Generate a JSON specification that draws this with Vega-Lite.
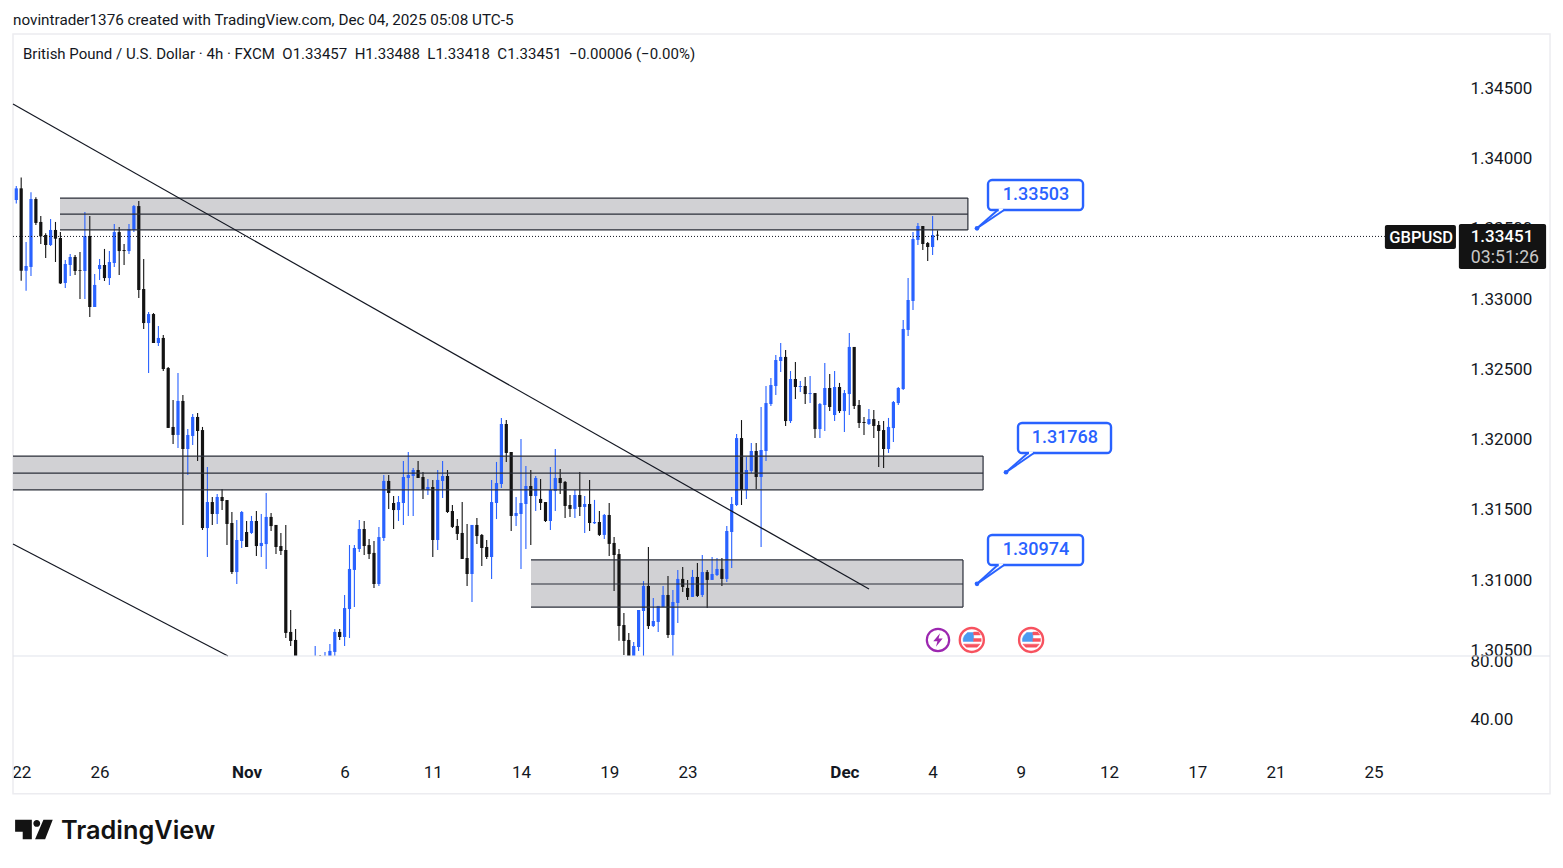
{"$schema":"https://vega.github.io/schema/vega-lite/v6.json","width":1447,"height":726,"autosize":{"type":"none"},"padding":{"left":13,"top":34,"right":103,"bottom":108},"background":"#ffffff","view":{"stroke":null},
"title":{"text":"novintrader1376 created with TradingView.com, Dec 04, 2025 05:08 UTC-5","anchor":"start","frame":"group","offset":5,"font":"Roboto","fontSize":15.25,"fontWeight":"normal","color":"#131722"},
"datasets":{
"frame":[{"bar":-0.67,"bar2":313.0,"price":1.34885,"price2":1.29481}],
"zones":[{"bar":8.92,"bar2":194.2,"price":1.33718,"price2":1.33491},{"bar":-0.67,"bar2":197.3,"price":1.31883,"price2":1.31642},{"bar":105.04,"bar2":193.2,"price":1.31144,"price2":1.30809}],
"zoneLines":[{"bar":8.92,"bar2":194.2,"price":1.33718,"price2":1.33718},{"bar":8.92,"bar2":194.2,"price":1.33604,"price2":1.33604},{"bar":8.92,"bar2":194.2,"price":1.33491,"price2":1.33491},{"bar":194.2,"bar2":194.2,"price":1.33718,"price2":1.33491},
{"bar":-0.67,"bar2":197.3,"price":1.31883,"price2":1.31883},{"bar":-0.67,"bar2":197.3,"price":1.31762,"price2":1.31762},{"bar":-0.67,"bar2":197.3,"price":1.31642,"price2":1.31642},{"bar":197.3,"bar2":197.3,"price":1.31883,"price2":1.31642},
{"bar":105.04,"bar2":193.2,"price":1.31144,"price2":1.31144},{"bar":105.04,"bar2":193.2,"price":1.30973,"price2":1.30973},{"bar":105.04,"bar2":193.2,"price":1.30809,"price2":1.30809},{"bar":193.2,"bar2":193.2,"price":1.31144,"price2":1.30809}],
"trend":[{"bar":-0.67,"bar2":174.02,"price":1.34387,"price2":1.30938},{"bar":-0.67,"bar2":43.2,"price":1.31258,"price2":1.30461}],
"separator":[{"bar":-0.67,"bar2":313.0,"price":1.30461,"price2":1.30461}],
"last":[{"bar":-0.67,"bar2":279.3,"price":1.33445,"price2":1.33445}],
"tags":[{"bar":279.3,"bar2":293.8,"price":1.33526,"price2":1.33356},{"bar":294.4,"bar2":312.2,"price":1.33533,"price2":1.33213}],
"tagText":[{"bar":286.7,"price":1.33441,"label":"GBPUSD","kind":"sym"},{"bar":303.2,"price":1.33448,"label":"1.33451","kind":"px"},{"bar":303.8,"price":1.33299,"label":"03:51:26","kind":"cd"}],
"callouts":[{"bar":198.31,"bar2":217.7,"price":1.33846,"price2":1.33633},{"bar":204.43,"bar2":223.41,"price":1.32118,"price2":1.31905},{"bar":198.31,"bar2":217.7,"price":1.31322,"price2":1.31108}],
"tails":[{"bar":196.06,"price":1.33503,"bar2":200.3,"price2":1.33633},{"bar":196.06,"price":1.33503,"bar2":201.6,"price2":1.33633},{"bar":201.98,"price":1.31768,"bar2":206.47,"price2":1.31905},{"bar":201.98,"price":1.31768,"bar2":207.69,"price2":1.31905},{"bar":196.06,"price":1.30974,"bar2":200.3,"price2":1.31108},{"bar":196.06,"price":1.30974,"bar2":201.6,"price2":1.31108}],
"gaps":[{"bar":200.5,"bar2":201.4,"price":1.33633,"price2":1.33633},{"bar":206.67,"bar2":207.49,"price":1.31905,"price2":1.31905},{"bar":200.5,"bar2":201.4,"price":1.31108,"price2":1.31108}],
"dots":[{"bar":196.06,"price":1.33503},{"bar":201.98,"price":1.31768},{"bar":196.06,"price":1.30974}],
"calloutText":[{"bar":208.1,"price":1.33747,"label":"1.33503"},{"bar":213.99,"price":1.32019,"label":"1.31768"},{"bar":208.1,"price":1.31222,"label":"1.30974"}],
"bolt":[{"bar":188.1,"price":1.30575}],
"flags":[{"bar":195.0,"price":1.30575},{"bar":207.1,"price":1.30575}],
"legendLine":[{"bar":1.37,"price":1.3474,"label":"British Pound / U.S. Dollar · 4h · FXCM\u00a0\u00a0O1.33457\u00a0\u00a0H1.33488\u00a0\u00a0L1.33418\u00a0\u00a0C1.33451\u00a0\u00a0−0.00006 (−0.00%)"}],
"logo":[{"bar":3.6,"price":1.29227}],
"brand":[{"bar":9.12,"price":1.29216,"label":"TradingView"}],
"rsi":[{"level":80},{"level":40}],
"candles":[
{"bar":0,"o":1.33704,"h":1.33804,"l":1.3368,"c":1.33787,"d":"up"},{"bar":1,"o":1.33787,"h":1.33865,"l":1.3313,"c":1.33201,"d":"down"},{"bar":2,"o":1.33201,"h":1.33405,"l":1.33059,"c":1.33235,"d":"up"},{"bar":3,"o":1.33228,"h":1.33759,"l":1.33164,"c":1.33711,"d":"up"},{"bar":4,"o":1.33711,"h":1.33723,"l":1.33526,"c":1.33541,"d":"down"},{"bar":5,"o":1.33548,"h":1.3359,"l":1.33391,"c":1.33446,"d":"down"},{"bar":6,"o":1.33455,"h":1.33467,"l":1.33292,"c":1.33384,"d":"down"},{"bar":7,"o":1.33384,"h":1.33569,"l":1.33377,"c":1.33491,"d":"up"},{"bar":8,"o":1.33491,"h":1.33548,"l":1.33263,"c":1.33429,"d":"down"},{"bar":9,"o":1.33434,"h":1.33476,"l":1.33107,"c":1.33111,"d":"down"},
{"bar":10,"o":1.33114,"h":1.33277,"l":1.33078,"c":1.33249,"d":"up"},{"bar":11,"o":1.33242,"h":1.3332,"l":1.33164,"c":1.33299,"d":"up"},{"bar":12,"o":1.33299,"h":1.33313,"l":1.33171,"c":1.33199,"d":"down"},{"bar":13,"o":1.33206,"h":1.33334,"l":1.33,"c":1.33201,"d":"down"},{"bar":14,"o":1.33199,"h":1.33619,"l":1.33,"c":1.33448,"d":"up"},{"bar":15,"o":1.33448,"h":1.3359,"l":1.32872,"c":1.32943,"d":"down"},{"bar":16,"o":1.32943,"h":1.33178,"l":1.32943,"c":1.331,"d":"up"},{"bar":17,"o":1.33213,"h":1.33284,"l":1.33135,"c":1.33242,"d":"up"},{"bar":18,"o":1.33242,"h":1.33356,"l":1.33128,"c":1.33149,"d":"down"},{"bar":19,"o":1.33149,"h":1.33341,"l":1.331,"c":1.33263,"d":"up"},
{"bar":20,"o":1.33256,"h":1.33533,"l":1.33228,"c":1.33476,"d":"up"},{"bar":21,"o":1.33476,"h":1.33512,"l":1.33171,"c":1.33341,"d":"down"},{"bar":22,"o":1.33348,"h":1.33391,"l":1.33242,"c":1.33341,"d":"down"},{"bar":23,"o":1.33341,"h":1.33533,"l":1.3332,"c":1.33498,"d":"up"},{"bar":24,"o":1.33491,"h":1.33669,"l":1.33476,"c":1.33661,"d":"up"},{"bar":25,"o":1.33661,"h":1.33697,"l":1.33007,"c":1.33064,"d":"down"},{"bar":26,"o":1.33071,"h":1.33284,"l":1.32787,"c":1.32829,"d":"down"},{"bar":27,"o":1.32829,"h":1.32908,"l":1.32474,"c":1.32893,"d":"up"},{"bar":28,"o":1.32893,"h":1.329,"l":1.32687,"c":1.32687,"d":"down"},{"bar":29,"o":1.32687,"h":1.32808,"l":1.32666,"c":1.32723,"d":"up"},
{"bar":30,"o":1.32723,"h":1.32744,"l":1.32488,"c":1.32502,"d":"down"},{"bar":31,"o":1.32509,"h":1.32516,"l":1.32083,"c":1.32083,"d":"down"},{"bar":32,"o":1.3209,"h":1.32282,"l":1.31969,"c":1.32033,"d":"down"},{"bar":33,"o":1.32033,"h":1.32474,"l":1.3194,"c":1.32275,"d":"up"},{"bar":34,"o":1.32275,"h":1.32317,"l":1.31393,"c":1.31933,"d":"down"},{"bar":35,"o":1.31933,"h":1.32075,"l":1.31748,"c":1.32033,"d":"up"},{"bar":36,"o":1.32026,"h":1.32182,"l":1.31962,"c":1.32161,"d":"up"},{"bar":37,"o":1.32161,"h":1.32189,"l":1.31848,"c":1.32061,"d":"down"},{"bar":38,"o":1.32068,"h":1.3209,"l":1.31357,"c":1.31371,"d":"down"},{"bar":39,"o":1.31371,"h":1.31805,"l":1.31165,"c":1.31556,"d":"up"},
{"bar":40,"o":1.31556,"h":1.31592,"l":1.31393,"c":1.31471,"d":"down"},{"bar":41,"o":1.31471,"h":1.31613,"l":1.314,"c":1.31592,"d":"up"},{"bar":42,"o":1.31592,"h":1.31649,"l":1.31499,"c":1.31563,"d":"down"},{"bar":43,"o":1.3157,"h":1.3157,"l":1.3125,"c":1.314,"d":"down"},{"bar":44,"o":1.31407,"h":1.31485,"l":1.31044,"c":1.31058,"d":"down"},{"bar":45,"o":1.31058,"h":1.31428,"l":1.30973,"c":1.31286,"d":"up"},{"bar":46,"o":1.31279,"h":1.31492,"l":1.31229,"c":1.31485,"d":"up"},{"bar":47,"o":1.31343,"h":1.31421,"l":1.31236,"c":1.31236,"d":"down"},{"bar":48,"o":1.31336,"h":1.31457,"l":1.31329,"c":1.31421,"d":"up"},{"bar":49,"o":1.31421,"h":1.31492,"l":1.31172,"c":1.31243,"d":"down"},
{"bar":50,"o":1.31243,"h":1.31471,"l":1.31165,"c":1.31265,"d":"up"},{"bar":51,"o":1.31257,"h":1.3162,"l":1.3108,"c":1.3145,"d":"up"},{"bar":52,"o":1.3145,"h":1.31478,"l":1.3135,"c":1.31385,"d":"down"},{"bar":53,"o":1.31393,"h":1.31393,"l":1.31186,"c":1.31236,"d":"down"},{"bar":54,"o":1.31243,"h":1.31336,"l":1.31179,"c":1.31208,"d":"down"},{"bar":55,"o":1.31215,"h":1.31393,"l":1.30589,"c":1.30625,"d":"down"},{"bar":56,"o":1.30632,"h":1.30788,"l":1.30532,"c":1.30568,"d":"down"},{"bar":57,"o":1.30575,"h":1.30653,"l":1.30461,"c":1.30461,"d":"down"},
{"bar":61,"o":1.30461,"h":1.30532,"l":1.30461,"c":1.30461,"d":"up"},{"bar":62,"o":1.30461,"h":1.30468,"l":1.30461,"c":1.30461,"d":"down"},{"bar":63,"o":1.30461,"h":1.3049,"l":1.30461,"c":1.30461,"d":"up"},{"bar":64,"o":1.30461,"h":1.30546,"l":1.30461,"c":1.30497,"d":"up"},{"bar":65,"o":1.3049,"h":1.30653,"l":1.30461,"c":1.30632,"d":"up"},{"bar":66,"o":1.30632,"h":1.30653,"l":1.30575,"c":1.30596,"d":"down"},{"bar":67,"o":1.30596,"h":1.30895,"l":1.30532,"c":1.30802,"d":"up"},{"bar":68,"o":1.30795,"h":1.3125,"l":1.30589,"c":1.3108,"d":"up"},{"bar":69,"o":1.31073,"h":1.3125,"l":1.3081,"c":1.31229,"d":"up"},
{"bar":70,"o":1.31222,"h":1.31428,"l":1.31201,"c":1.31364,"d":"up"},{"bar":71,"o":1.31364,"h":1.31421,"l":1.31179,"c":1.31243,"d":"down"},{"bar":72,"o":1.3125,"h":1.31293,"l":1.31151,"c":1.31186,"d":"down"},{"bar":73,"o":1.31194,"h":1.31279,"l":1.30945,"c":1.30973,"d":"down"},{"bar":74,"o":1.30973,"h":1.31379,"l":1.30959,"c":1.31307,"d":"up"},{"bar":75,"o":1.313,"h":1.31748,"l":1.31279,"c":1.31706,"d":"up"},{"bar":76,"o":1.31706,"h":1.31748,"l":1.31507,"c":1.3162,"d":"down"},{"bar":77,"o":1.31549,"h":1.31599,"l":1.31364,"c":1.31499,"d":"down"},{"bar":78,"o":1.31499,"h":1.31599,"l":1.31421,"c":1.31556,"d":"up"},{"bar":79,"o":1.31549,"h":1.31848,"l":1.31393,"c":1.31734,"d":"up"},
{"bar":80,"o":1.31727,"h":1.31912,"l":1.31457,"c":1.31748,"d":"up"},{"bar":81,"o":1.31741,"h":1.31798,"l":1.31457,"c":1.31784,"d":"up"},{"bar":82,"o":1.31784,"h":1.31848,"l":1.31727,"c":1.31727,"d":"down"},{"bar":83,"o":1.31734,"h":1.3177,"l":1.31578,"c":1.31642,"d":"down"},{"bar":84,"o":1.31642,"h":1.3172,"l":1.31606,"c":1.31663,"d":"up"},{"bar":85,"o":1.31663,"h":1.31713,"l":1.31165,"c":1.31286,"d":"down"},{"bar":86,"o":1.31286,"h":1.31784,"l":1.31215,"c":1.31713,"d":"up"},{"bar":87,"o":1.31706,"h":1.31848,"l":1.31585,"c":1.31741,"d":"up"},{"bar":88,"o":1.31741,"h":1.31784,"l":1.31478,"c":1.31485,"d":"down"},{"bar":89,"o":1.31492,"h":1.31535,"l":1.31371,"c":1.31379,"d":"down"},
{"bar":90,"o":1.31386,"h":1.31435,"l":1.31286,"c":1.31329,"d":"down"},{"bar":91,"o":1.31336,"h":1.31556,"l":1.31151,"c":1.31151,"d":"down"},{"bar":92,"o":1.31158,"h":1.314,"l":1.30959,"c":1.31044,"d":"down"},{"bar":93,"o":1.31044,"h":1.31393,"l":1.30845,"c":1.31393,"d":"up"},{"bar":94,"o":1.31393,"h":1.31443,"l":1.31258,"c":1.31314,"d":"down"},{"bar":95,"o":1.31322,"h":1.31329,"l":1.31101,"c":1.31229,"d":"down"},{"bar":96,"o":1.31236,"h":1.31286,"l":1.31151,"c":1.31165,"d":"down"},{"bar":97,"o":1.31165,"h":1.31713,"l":1.31009,"c":1.31556,"d":"up"},{"bar":98,"o":1.31549,"h":1.31841,"l":1.31435,"c":1.31691,"d":"up"},{"bar":99,"o":1.31684,"h":1.32154,"l":1.31656,"c":1.32111,"d":"up"},
{"bar":100,"o":1.32111,"h":1.3214,"l":1.31841,"c":1.31905,"d":"down"},{"bar":101,"o":1.31912,"h":1.31912,"l":1.3135,"c":1.31457,"d":"down"},{"bar":102,"o":1.31457,"h":1.31592,"l":1.31386,"c":1.31478,"d":"up"},{"bar":103,"o":1.31471,"h":1.32004,"l":1.3108,"c":1.31549,"d":"up"},{"bar":104,"o":1.31542,"h":1.31812,"l":1.31222,"c":1.3167,"d":"up"},{"bar":105,"o":1.3167,"h":1.31784,"l":1.3125,"c":1.31599,"d":"down"},{"bar":106,"o":1.31599,"h":1.31741,"l":1.31492,"c":1.31727,"d":"up"},{"bar":107,"o":1.31578,"h":1.3172,"l":1.31499,"c":1.31549,"d":"down"},{"bar":108,"o":1.31556,"h":1.31556,"l":1.31414,"c":1.31421,"d":"down"},{"bar":109,"o":1.31421,"h":1.31805,"l":1.31357,"c":1.31642,"d":"up"},
{"bar":110,"o":1.31635,"h":1.31933,"l":1.31492,"c":1.31727,"d":"up"},{"bar":111,"o":1.31727,"h":1.31791,"l":1.31613,"c":1.31691,"d":"down"},{"bar":112,"o":1.31699,"h":1.31706,"l":1.31443,"c":1.31528,"d":"down"},{"bar":113,"o":1.31535,"h":1.31606,"l":1.3145,"c":1.31507,"d":"down"},{"bar":114,"o":1.31507,"h":1.31642,"l":1.31443,"c":1.31606,"d":"up"},{"bar":115,"o":1.31606,"h":1.3177,"l":1.31457,"c":1.31521,"d":"down"},{"bar":116,"o":1.31521,"h":1.31599,"l":1.31336,"c":1.31542,"d":"up"},{"bar":117,"o":1.31542,"h":1.31713,"l":1.3135,"c":1.31407,"d":"down"},{"bar":118,"o":1.31405,"h":1.31571,"l":1.314,"c":1.31414,"d":"up"},{"bar":119,"o":1.31414,"h":1.31492,"l":1.31314,"c":1.31322,"d":"down"},
{"bar":120,"o":1.31322,"h":1.31471,"l":1.31293,"c":1.31464,"d":"up"},{"bar":121,"o":1.31464,"h":1.31549,"l":1.31172,"c":1.31258,"d":"down"},{"bar":122,"o":1.31265,"h":1.31307,"l":1.30923,"c":1.31179,"d":"down"},{"bar":123,"o":1.31186,"h":1.31222,"l":1.3057,"c":1.30674,"d":"down"},{"bar":124,"o":1.30681,"h":1.30767,"l":1.30468,"c":1.30568,"d":"down"},{"bar":125,"o":1.30575,"h":1.30625,"l":1.30461,"c":1.30461,"d":"down"},{"bar":126,"o":1.30461,"h":1.30561,"l":1.30461,"c":1.30532,"d":"up"},{"bar":127,"o":1.30525,"h":1.30788,"l":1.30497,"c":1.30788,"d":"up"},{"bar":128,"o":1.30781,"h":1.30994,"l":1.30461,"c":1.30959,"d":"up"},{"bar":129,"o":1.30959,"h":1.31236,"l":1.30653,"c":1.30674,"d":"down"},
{"bar":130,"o":1.30674,"h":1.30873,"l":1.30667,"c":1.3071,"d":"up"},{"bar":131,"o":1.30703,"h":1.30817,"l":1.30632,"c":1.30817,"d":"up"},{"bar":132,"o":1.30809,"h":1.30959,"l":1.30809,"c":1.30895,"d":"up"},{"bar":133,"o":1.30895,"h":1.3103,"l":1.30589,"c":1.3061,"d":"down"},{"bar":134,"o":1.3061,"h":1.3093,"l":1.30461,"c":1.30845,"d":"up"},{"bar":135,"o":1.30838,"h":1.31073,"l":1.30696,"c":1.31009,"d":"up"},{"bar":136,"o":1.31009,"h":1.31094,"l":1.30916,"c":1.30952,"d":"down"},{"bar":137,"o":1.30945,"h":1.31002,"l":1.30859,"c":1.30881,"d":"down"},{"bar":138,"o":1.30881,"h":1.31073,"l":1.30881,"c":1.31023,"d":"up"},{"bar":139,"o":1.31023,"h":1.31122,"l":1.30881,"c":1.30888,"d":"down"},
{"bar":140,"o":1.30895,"h":1.31179,"l":1.30881,"c":1.31058,"d":"up"},{"bar":141,"o":1.31058,"h":1.31073,"l":1.30802,"c":1.31002,"d":"down"},{"bar":142,"o":1.31002,"h":1.31165,"l":1.31002,"c":1.31044,"d":"up"},{"bar":143,"o":1.31037,"h":1.31158,"l":1.3103,"c":1.3108,"d":"up"},{"bar":144,"o":1.3108,"h":1.31158,"l":1.30959,"c":1.31009,"d":"down"},{"bar":145,"o":1.31009,"h":1.31386,"l":1.30987,"c":1.3135,"d":"up"},{"bar":146,"o":1.31343,"h":1.31592,"l":1.31087,"c":1.31542,"d":"up"},{"bar":147,"o":1.31535,"h":1.3204,"l":1.31528,"c":1.32011,"d":"up"},{"bar":148,"o":1.32011,"h":1.32139,"l":1.31535,"c":1.31641,"d":"down"},{"bar":149,"o":1.31641,"h":1.31876,"l":1.31577,"c":1.31784,"d":"up"},
{"bar":150,"o":1.31777,"h":1.31976,"l":1.31762,"c":1.31919,"d":"up"},{"bar":151,"o":1.31919,"h":1.31976,"l":1.31649,"c":1.31734,"d":"down"},{"bar":152,"o":1.31734,"h":1.32232,"l":1.31236,"c":1.31926,"d":"up"},{"bar":153,"o":1.31919,"h":1.32381,"l":1.31848,"c":1.3226,"d":"up"},{"bar":154,"o":1.32253,"h":1.32438,"l":1.32239,"c":1.32388,"d":"up"},{"bar":155,"o":1.32381,"h":1.32602,"l":1.32317,"c":1.32566,"d":"up"},{"bar":156,"o":1.32559,"h":1.32687,"l":1.32481,"c":1.32588,"d":"up"},{"bar":157,"o":1.32588,"h":1.32637,"l":1.32097,"c":1.32132,"d":"down"},{"bar":158,"o":1.32132,"h":1.32488,"l":1.32118,"c":1.32431,"d":"up"},{"bar":159,"o":1.32431,"h":1.32552,"l":1.32289,"c":1.32374,"d":"down"},
{"bar":160,"o":1.32374,"h":1.32417,"l":1.32338,"c":1.32381,"d":"up"},{"bar":161,"o":1.32381,"h":1.32445,"l":1.32253,"c":1.32324,"d":"down"},{"bar":162,"o":1.32324,"h":1.32452,"l":1.3226,"c":1.32331,"d":"up"},{"bar":163,"o":1.32331,"h":1.32331,"l":1.32011,"c":1.32075,"d":"down"},{"bar":164,"o":1.32075,"h":1.3226,"l":1.32011,"c":1.32253,"d":"up"},{"bar":165,"o":1.32246,"h":1.32545,"l":1.32061,"c":1.32367,"d":"up"},{"bar":166,"o":1.32367,"h":1.32466,"l":1.32203,"c":1.32232,"d":"down"},{"bar":167,"o":1.32175,"h":1.32488,"l":1.32132,"c":1.32374,"d":"up"},{"bar":168,"o":1.32374,"h":1.32403,"l":1.32189,"c":1.32203,"d":"down"},{"bar":169,"o":1.32203,"h":1.32353,"l":1.32054,"c":1.32331,"d":"up"},
{"bar":170,"o":1.32324,"h":1.32758,"l":1.32175,"c":1.32659,"d":"up"},{"bar":171,"o":1.32659,"h":1.32659,"l":1.32218,"c":1.32239,"d":"down"},{"bar":172,"o":1.32246,"h":1.32282,"l":1.32082,"c":1.32118,"d":"down"},{"bar":173,"o":1.32125,"h":1.32161,"l":1.32033,"c":1.32118,"d":"down"},{"bar":174,"o":1.32111,"h":1.32218,"l":1.32104,"c":1.32146,"d":"up"},{"bar":175,"o":1.32146,"h":1.3221,"l":1.32011,"c":1.32097,"d":"down"},{"bar":176,"o":1.32104,"h":1.32132,"l":1.31805,"c":1.32061,"d":"down"},{"bar":177,"o":1.32068,"h":1.32132,"l":1.31798,"c":1.31933,"d":"down"},{"bar":178,"o":1.31933,"h":1.32154,"l":1.31905,"c":1.3209,"d":"up"},{"bar":179,"o":1.32082,"h":1.32274,"l":1.31983,"c":1.32267,"d":"up"},
{"bar":180,"o":1.3226,"h":1.32374,"l":1.32246,"c":1.32367,"d":"up"},{"bar":181,"o":1.3236,"h":1.32851,"l":1.32353,"c":1.32787,"d":"up"},{"bar":182,"o":1.3278,"h":1.33149,"l":1.32737,"c":1.32993,"d":"up"},{"bar":183,"o":1.32986,"h":1.33477,"l":1.32922,"c":1.33427,"d":"up"},{"bar":184,"o":1.3342,"h":1.33541,"l":1.33384,"c":1.33519,"d":"up"},{"bar":185,"o":1.33519,"h":1.33519,"l":1.33349,"c":1.33391,"d":"down"},{"bar":186,"o":1.33398,"h":1.33405,"l":1.3327,"c":1.3337,"d":"down"},{"bar":187,"o":1.3337,"h":1.3359,"l":1.33313,"c":1.33455,"d":"up"},{"bar":188,"o":1.33457,"h":1.33488,"l":1.33418,"c":1.33451,"d":"down"}
]},
"layer":[
{"encoding":{
"x":{"field":"bar","type":"quantitative","scale":{"domain":[-0.67,294.63],"nice":false,"zero":false,"padding":0},"axis":{"title":null,"grid":false,"ticks":false,"domain":false,"orient":"bottom","values":[1,17,47,67,85,103,121,137,169,187,205,223,241,257,277],"labelExpr":"['22','26','Nov','6','11','14','19','23','Dec','4','9','12','17','21','25'][indexof([1,17,47,67,85,103,121,137,169,187,205,223,241,257,277],datum.value)]","labelFont":"Roboto","labelFontSize":17,"labelColor":"#131722","labelPadding":4,"labelOverlap":false,"labelFlush":false,"labelFontWeight":{"condition":{"test":"datum.value==47||datum.value==169","value":"bold"},"value":"normal"}}},
"y":{"field":"price","type":"quantitative","scale":{"domain":[1.297212,1.348848],"nice":false,"zero":false},"axis":{"title":null,"grid":false,"ticks":false,"domain":false,"orient":"right","values":[1.305,1.31,1.315,1.32,1.325,1.33,1.335,1.34,1.345],"format":".5f","labelFont":"Roboto","labelFontSize":17,"labelColor":"#131722","labelPadding":10,"labelOverlap":false,"labelFlush":false}}},
"layer":[
{"data":{"name":"frame"},"mark":{"type":"rect","fillOpacity":0,"stroke":"#ececf0","strokeWidth":1.5},"encoding":{"x2":{"field":"bar2"},"y2":{"field":"price2"}}},
{"data":{"name":"zones"},"mark":{"type":"rect","fill":"#d1d1d4"},"encoding":{"x2":{"field":"bar2"},"y2":{"field":"price2"}}},
{"data":{"name":"candles"},"mark":{"type":"rule","strokeWidth":1.1},"encoding":{"y":{"field":"h","type":"quantitative","scale":{"domain":[1.297212,1.348848],"nice":false,"zero":false},"axis":{"title":null,"grid":false,"ticks":false,"domain":false,"orient":"right","values":[1.305,1.31,1.315,1.32,1.325,1.33,1.335,1.34,1.345],"format":".5f","labelFont":"Roboto","labelFontSize":17,"labelColor":"#131722","labelPadding":10,"labelOverlap":false,"labelFlush":false}},"y2":{"field":"l"},"color":{"field":"d","type":"nominal","scale":{"domain":["up","down"],"range":["#2962ff","#131313"]},"legend":null}}},
{"data":{"name":"candles"},"mark":{"type":"bar","size":3.2,"orient":"vertical"},"encoding":{"y":{"field":"o","type":"quantitative","scale":{"domain":[1.297212,1.348848],"nice":false,"zero":false},"axis":{"title":null,"grid":false,"ticks":false,"domain":false,"orient":"right","values":[1.305,1.31,1.315,1.32,1.325,1.33,1.335,1.34,1.345],"format":".5f","labelFont":"Roboto","labelFontSize":17,"labelColor":"#131722","labelPadding":10,"labelOverlap":false,"labelFlush":false}},"y2":{"field":"c"},"color":{"field":"d","type":"nominal","scale":{"domain":["up","down"],"range":["#2962ff","#131313"]},"legend":null}}},
{"data":{"name":"zoneLines"},"mark":{"type":"rule","color":"#2a2e39","strokeWidth":1.2},"encoding":{"x2":{"field":"bar2"},"y2":{"field":"price2"}}},
{"data":{"name":"trend"},"mark":{"type":"rule","color":"#131722","strokeWidth":1.2},"encoding":{"x2":{"field":"bar2"},"y2":{"field":"price2"}}},
{"data":{"name":"separator"},"mark":{"type":"rule","color":"#e0e3eb","strokeWidth":1},"encoding":{"x2":{"field":"bar2"},"y2":{"field":"price2"}}},
{"data":{"name":"last"},"mark":{"type":"rule","color":"#131722","strokeWidth":1,"strokeDash":[1,2]},"encoding":{"x2":{"field":"bar2"},"y2":{"field":"price2"}}},
{"data":{"name":"tags"},"mark":{"type":"rect","fill":"#131313","cornerRadius":2},"encoding":{"x2":{"field":"bar2"},"y2":{"field":"price2"}}},
{"data":{"name":"tagText"},"transform":[{"filter":"datum.kind=='sym'"}],"mark":{"type":"text","font":"Roboto","fontSize":16.5,"fontWeight":500,"color":"#ffffff","align":"center","baseline":"middle","dy":1},"encoding":{"text":{"field":"label"}}},
{"data":{"name":"tagText"},"transform":[{"filter":"datum.kind=='px'"}],"mark":{"type":"text","font":"Roboto","fontSize":17,"fontWeight":500,"color":"#ffffff","align":"center","baseline":"middle","dy":1},"encoding":{"text":{"field":"label"}}},
{"data":{"name":"tagText"},"transform":[{"filter":"datum.kind=='cd'"}],"mark":{"type":"text","font":"Roboto","fontSize":17.7,"color":"#c8c8c8","align":"center","baseline":"middle","dy":1},"encoding":{"text":{"field":"label"}}},
{"data":{"name":"callouts"},"mark":{"type":"rect","fill":"#ffffff","stroke":"#2962ff","strokeWidth":2.4,"cornerRadius":4},"encoding":{"x2":{"field":"bar2"},"y2":{"field":"price2"}}},
{"data":{"name":"gaps"},"mark":{"type":"rule","color":"#ffffff","strokeWidth":3},"encoding":{"x2":{"field":"bar2"},"y2":{"field":"price2"}}},
{"data":{"name":"tails"},"mark":{"type":"rule","color":"#2962ff","strokeWidth":2},"encoding":{"x2":{"field":"bar2"},"y2":{"field":"price2"}}},
{"data":{"name":"dots"},"mark":{"type":"point","filled":true,"fill":"#2962ff","stroke":null,"size":22,"opacity":1}},
{"data":{"name":"calloutText"},"mark":{"type":"text","font":"Roboto","fontSize":18,"fontWeight":500,"color":"#2962ff","align":"center","baseline":"middle","dy":1},"encoding":{"text":{"field":"label"}}},
{"data":{"name":"bolt"},"mark":{"type":"point","shape":"circle","size":500,"fill":"#ffffff","filled":true,"stroke":"#9c27b0","strokeWidth":2.2,"opacity":1}},
{"data":{"name":"bolt"},"mark":{"type":"point","shape":"M0.18,-0.6 L-0.42,0.12 L-0.05,0.12 L-0.18,0.6 L0.42,-0.14 L0.05,-0.14 Z","size":500,"filled":true,"fill":"#9c27b0","opacity":1}},
{"data":{"name":"flags"},"mark":{"type":"point","shape":"circle","size":576,"fill":"#ffffff","filled":true,"stroke":"#f7525f","strokeWidth":2.4,"opacity":1}},
{"data":{"name":"flags"},"mark":{"type":"point","shape":"M-0.62,-0.36 L-0.36,-0.62 L0.15,-0.62 L0.15,0.12 L-0.72,0.12 L-0.72,-0.1 Z","size":576,"filled":true,"fill":"#4c9bf0","stroke":"#4c9bf0","strokeWidth":0.5,"opacity":1}},
{"data":{"name":"flags"},"mark":{"type":"point","shape":"M0.15,-0.66 L0.55,-0.66 L0.72,-0.42 L0.15,-0.42 Z M0.15,-0.12 L0.78,-0.12 L0.78,0.12 L0.15,0.12 Z M-0.68,0.35 L0.68,0.35 L0.45,0.6 L-0.45,0.6 Z","size":576,"filled":true,"fill":"#f7525f","stroke":"#f7525f","strokeWidth":0.5,"opacity":1}},
{"data":{"name":"legendLine"},"mark":{"type":"text","font":"Roboto","fontSize":15,"color":"#131722","align":"left","baseline":"middle"},"encoding":{"text":{"field":"label"}}},
{"data":{"name":"logo"},"mark":{"type":"point","shape":"M-0.99,-0.51 H-0.11 V0.51 H-0.59 V0.12 H-0.99 Z M-0.03,-0.32 A0.18,0.18 0 1 0 0.33,-0.32 A0.18,0.18 0 1 0 -0.03,-0.32 Z M0.5,-0.51 H0.99 L0.59,0.51 H0.06 Z","size":1444,"filled":true,"fill":"#131313","opacity":1}},
{"data":{"name":"brand"},"mark":{"type":"text","font":"Inter","fontSize":25.3,"fontWeight":600,"color":"#131313","align":"left","baseline":"middle"},"encoding":{"text":{"field":"label"}}}
]},
{"data":{"name":"rsi"},"mark":{"type":"point","opacity":0},"encoding":{"y":{"field":"level","type":"quantitative","scale":{"domain":[12.41,513.1],"nice":false,"zero":false},"axis":{"title":null,"grid":false,"ticks":false,"domain":false,"orient":"right","values":[40,80],"format":".2f","labelFont":"Roboto","labelFontSize":17,"labelColor":"#131722","labelPadding":10,"labelOverlap":false,"labelFlush":false}}}}
],
"resolve":{"scale":{"y":"independent"},"axis":{"y":"independent"}}}
